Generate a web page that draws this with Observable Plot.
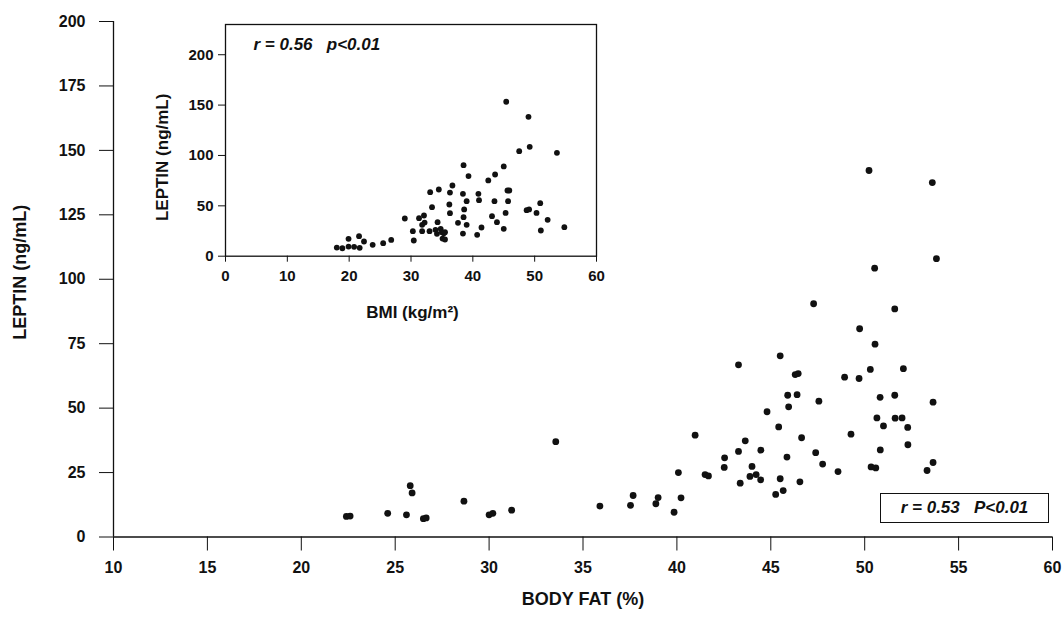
<!DOCTYPE html>
<html>
<head>
<meta charset="utf-8">
<script src="https://cdn.jsdelivr.net/npm/d3@7"></script>
<script src="https://cdn.jsdelivr.net/npm/@observablehq/plot@0.6"></script>
<style>
  html, body { margin: 0; padding: 0; background: #fff; }
  #wrap { position: relative; width: 1064px; height: 624px; font-family: "Liberation Sans", Arial, sans-serif; }
  #wrap svg { position: absolute; left: 0; top: 0; }
  #rbox {
    position: absolute; left: 880px; top: 493px; width: 167px; height: 28px;
    border: 1.3px solid #111; box-sizing: content-box;
    font: italic bold 17px "Liberation Sans", Arial, sans-serif; color: #111;
    display: flex; align-items: center; justify-content: center; white-space: pre;
  }
</style>
</head>
<body>
<div id="wrap"></div>
<script>
// Main panel: body fat (%) vs leptin (ng/mL)
const bodyFat = [22.4,22.6,24.6,25.6,25.8,25.9,26.5,26.65,28.66,30.0,30.2,31.2,33.55,35.9,37.53,37.67,38.88,39.0,39.85,40.08,40.22,40.97,41.5,41.68,42.52,42.54,43.28,43.28,43.37,43.64,43.89,44.0,44.22,44.46,44.47,44.8,45.26,45.42,45.5,45.5,45.66,45.86,45.9,45.95,46.3,46.46,46.4,46.55,46.64,47.28,47.39,47.56,47.76,48.58,48.93,49.27,49.7,49.73,50.3,50.34,50.59,50.53,50.55,50.65,50.82,50.83,51.0,51.6,51.6,51.62,51.99,52.06,52.29,52.3,53.32,53.64,53.64,53.82,50.23,53.6];
const leptinMain = [8.0,8.1,9.2,8.6,19.9,17.1,7.1,7.4,13.9,8.6,9.2,10.4,37.0,12.0,12.3,16.1,12.9,15.3,9.6,25.0,15.2,39.5,24.2,23.7,27.0,30.7,33.2,66.8,20.9,37.3,23.5,27.4,24.2,22.2,33.7,48.6,16.5,42.7,22.6,70.3,18.0,31.0,55.0,50.5,63.0,63.4,55.2,21.4,38.5,90.5,32.7,52.7,28.3,25.4,62.0,39.9,61.5,80.8,65.0,27.2,26.8,104.3,74.8,46.2,54.2,33.8,43.1,88.5,55.0,46.1,46.2,65.3,42.5,35.8,25.8,28.9,52.3,108.0,142.2,137.5];

// Inset panel: BMI (kg/m2) vs leptin (ng/mL)
const bmi = [18.0,18.9,19.9,19.9,20.8,21.6,21.7,22.4,23.8,25.5,26.8,29.0,30.3,30.45,31.3,31.8,32.1,31.8,32.2,33.0,33.1,33.4,34.3,34.5,33.96,34.2,34.8,35.0,35.3,35.1,35.5,35.5,36.7,36.3,36.2,36.3,37.6,38.4,38.5,38.6,38.5,38.4,39.0,39.0,39.3,40.9,41.0,40.7,41.4,42.5,43.6,43.1,43.5,43.9,45.0,45.0,45.3,45.4,45.6,45.9,45.7,47.5,48.7,49.1,49.0,49.2,50.3,50.9,51.0,52.1,53.6,54.8];
const leptinInset = [8.6,7.9,17.2,9.6,9.3,19.9,8.3,14.6,11.3,12.9,16.2,37.4,24.8,15.6,37.7,24.8,40.4,31.1,33.4,24.8,63.6,48.7,33.8,66.2,26.2,22.2,27.2,23.8,22.8,17.5,16.6,23.8,70.2,63.2,51.3,42.7,33.1,61.9,90.4,46.4,38.7,22.5,54.6,31.1,79.5,61.9,55.6,21.2,28.5,75.2,81.1,39.7,54.6,33.8,89.1,27.2,43.0,153.3,65.2,65.2,54.6,104.3,45.7,46.4,138.4,108.6,43.0,52.6,25.5,36.1,102.6,28.8];

// Ticks and texts
const mainXTicks = [10,15,20,25,30,35,40,45,50,55,60];
const mainYTicks = [0,25,50,75,100,125,150,175,200];
const insetXTicks = [0,10,20,30,40,50,60];
const insetYTicks = [0,50,100,150,200];
const mainXDomain = [10,60];
const mainYDomain = [0,200];
const insetXDomain = [0,60];
const insetYDomain = [0,230];
const mainYLabel = ["LEPTIN (ng/mL)"];
const mainXLabel = ["BODY FAT (%)"];
const insetYLabel = ["LEPTIN (ng/mL)"];
const insetXLabel = ["BMI (kg/m\u00b2)"];
const insetStat = ["r = 0.56   p<0.01"];
const mainStat = "r = 0.53   P<0.01";

const ink = "#111";
const font = "'Liberation Sans', Arial, sans-serif";

const main = Plot.plot({
  width: 1064, height: 624,
  marginLeft: 113, marginRight: 12, marginTop: 21, marginBottom: 87.5,
  x: {domain: mainXDomain},
  y: {domain: mainYDomain},
  style: {fontFamily: font, fontWeight: "bold", fontSize: "16px", color: ink, background: "transparent"},
  marks: [
    Plot.ruleY([mainYDomain[0]], {stroke: ink, strokeWidth: 1.3}),
    Plot.ruleX([mainXDomain[0]], {stroke: ink, strokeWidth: 1.3}),
    Plot.axisX({ticks: mainXTicks, tickSize: 14, tickPadding: 11, label: null, stroke: ink, fill: ink}),
    Plot.axisY({ticks: mainYTicks, tickSize: 14, tickPadding: 14, label: null, stroke: ink, fill: ink}),
    Plot.dot(bodyFat, {x: bodyFat, y: leptinMain, r: 3.4, fill: ink, stroke: "none"}),
    Plot.text(mainYLabel, {text: d => d, frameAnchor: "left", textAnchor: "middle", lineAnchor: "middle", rotate: -90, dx: -93, dy: -7, fontSize: 18, fontWeight: "bold", fill: ink}),
    Plot.text(mainXLabel, {text: d => d, frameAnchor: "bottom", textAnchor: "middle", lineAnchor: "middle", dy: 62, fontSize: 18, fontWeight: "bold", fill: ink})
  ]
});

const inset = Plot.plot({
  width: 620, height: 330,
  marginLeft: 225, marginRight: 24, marginTop: 24, marginBottom: 74.3,
  x: {domain: insetXDomain},
  y: {domain: insetYDomain},
  style: {fontFamily: font, fontWeight: "bold", fontSize: "15px", color: ink, background: "transparent"},
  marks: [
    Plot.frame({stroke: ink, strokeWidth: 1.3}),
    Plot.axisX({ticks: insetXTicks, tickSize: 6, tickPadding: 8, label: null, stroke: ink, fill: ink}),
    Plot.axisY({ticks: insetYTicks, tickSize: 7, tickPadding: 5, label: null, stroke: ink, fill: ink}),
    Plot.dot(bmi, {x: bmi, y: leptinInset, r: 2.9, fill: ink, stroke: "none"}),
    Plot.text(insetStat, {text: d => d, frameAnchor: "top-left", textAnchor: "start", lineAnchor: "middle", dx: 28, dy: 20, fontSize: 17, fontStyle: "italic", fontWeight: "bold", fill: ink}),
    Plot.text(insetYLabel, {text: d => d, frameAnchor: "left", textAnchor: "middle", lineAnchor: "middle", rotate: -90, dx: -63, dy: 17, fontSize: 17, fontWeight: "bold", fill: ink}),
    Plot.text(insetXLabel, {text: d => d, frameAnchor: "bottom", textAnchor: "middle", lineAnchor: "middle", dx: 1.5, dy: 56, fontSize: 17, fontWeight: "bold", fill: ink})
  ]
});

const wrap = document.getElementById("wrap");
wrap.appendChild(main);
wrap.appendChild(inset);
const box = document.createElement("div");
box.id = "rbox";
box.textContent = mainStat;
wrap.appendChild(box);
</script>
</body>
</html>
